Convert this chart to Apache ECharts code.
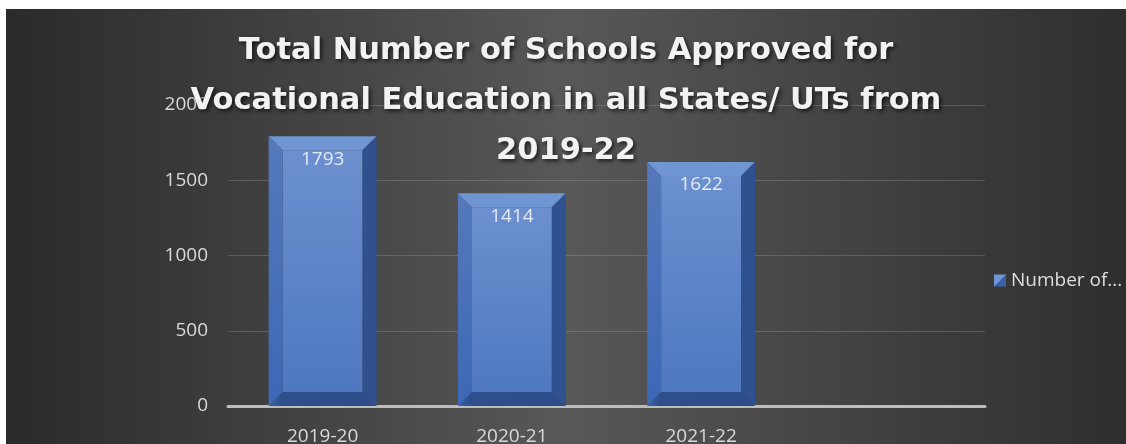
<!DOCTYPE html>
<html>
<head>
<meta charset="utf-8">
<script src="https://cdn.jsdelivr.net/npm/echarts@6/dist/echarts.min.js"></script>
<style>
html,body{margin:0;padding:0;background:#fff;width:1126px;height:444px;overflow:hidden;}
#chart{position:absolute;left:6px;top:9px;width:1120px;height:435px;}
</style>
</head>
<body>
<div id="chart"></div>
<script>
const titleLines = ['Total Number of Schools Approved for', 'Vocational Education in all States/ UTs from', '2019-22'];
const categories = ['2019-20', '2020-21', '2021-22'];
const seriesName = 'Number of Schools';
const values = [1793, 1414, 1622];
const yTicks = { min: 0, max: 2000, interval: 500 };

const axisData = categories.concat(['']);
const chart = echarts.init(document.getElementById('chart'), null, { renderer: 'canvas' });

function renderBevelBar(params, api) {
  const idx = api.value(0);
  const v = api.value(1);
  const top = api.coord([idx, v]);
  const base = api.coord([idx, 0]);
  const band = api.size([1, 0])[0];
  const w = band * 0.57;
  const x0 = top[0] - w / 2, x1 = x0 + w;
  const yt = top[1], yb = base[1];
  const d = 14;
  return {
    type: 'group',
    children: [
      { type: 'rect', shape: { x: x0 + d, y: yt + d, width: w - 2 * d, height: yb - yt - 2 * d },
        style: { fill: new echarts.graphic.LinearGradient(0, 0, 0, 1, [
          { offset: 0, color: '#6c90cf' }, { offset: 1, color: '#4f78c0' }]) } },
      { type: 'polygon', shape: { points: [[x0, yt], [x1, yt], [x1 - d, yt + d], [x0 + d, yt + d]] },
        style: { fill: '#7095d3' } },
      { type: 'polygon', shape: { points: [[x0, yt], [x0 + d, yt + d], [x0 + d, yb - d], [x0, yb]] },
        style: { fill: new echarts.graphic.LinearGradient(0, 0, 0, 1, [
          { offset: 0, color: '#5579bb' }, { offset: 1, color: '#3d68b6' }]) } },
      { type: 'polygon', shape: { points: [[x1, yt], [x1, yb], [x1 - d, yb - d], [x1 - d, yt + d]] },
        style: { fill: '#2f5190' } },
      { type: 'polygon', shape: { points: [[x0, yb], [x0 + d, yb - d], [x1 - d, yb - d], [x1, yb]] },
        style: { fill: new echarts.graphic.LinearGradient(0, 0, 1, 0, [
          { offset: 0, color: '#3563b3' }, { offset: 0.12, color: '#2e4f8c' }, { offset: 1, color: '#2c4d8a' }]) } },
      { type: 'text', style: { text: String(v), x: top[0], y: yt + 23, align: 'center', verticalAlign: 'middle',
          fill: '#e3eaf6', font: '19px "Open Sans"' } }
    ]
  };
}

const option = {
  backgroundColor: new echarts.graphic.LinearGradient(0, 0, 1, 0, [
    { offset: 0, color: '#2a2a2a' },
    { offset: 0.5, color: '#585858' },
    { offset: 1, color: '#2e2e2e' }
  ]),
  title: {
    text: titleLines.join('\n'),
    left: 'center',
    top: 12,
    textStyle: {
      color: '#f2f2f2',
      fontFamily: 'DejaVu Sans',
      fontWeight: 'bold',
      fontSize: 30.5,
      lineHeight: 50,
      textShadowColor: 'rgba(0,0,0,0.7)',
      textShadowBlur: 4,
      textShadowOffsetX: 2,
      textShadowOffsetY: 2
    }
  },
  legend: {
    data: [seriesName],
    left: 983,
    top: 257,
    icon: 'rect',
    itemWidth: 12,
    itemHeight: 12,
    formatter: name => name.split(' ').slice(0, 2).join(' ') + '...',
    textStyle: { color: '#dedede', fontFamily: 'Open Sans', fontSize: 19 }
  },
  grid: { left: 222, right: 141, top: 96, bottom: 38, containLabel: false, outerBoundsMode: 'none' },
  xAxis: {
    type: 'category',
    data: axisData,
    axisTick: { show: false },
    axisLine: { lineStyle: { color: '#bdbdbd', width: 3 } },
    axisLabel: { color: '#d9d9d9', fontFamily: 'Open Sans', fontSize: 19, margin: 21 },
    splitLine: { show: false }
  },
  yAxis: {
    type: 'value',
    min: yTicks.min, max: yTicks.max, interval: yTicks.interval,
    axisLine: { show: false },
    axisTick: { show: false },
    axisLabel: { color: '#d9d9d9', fontFamily: 'Open Sans', fontSize: 19, margin: 20, formatter: v => String(v) },
    splitLine: { lineStyle: { color: 'rgba(255,255,255,0.16)', width: 1 } }
  },
  series: [{
    name: seriesName,
    type: 'custom',
    renderItem: renderBevelBar,
    clip: false,
    itemStyle: {
      color: new echarts.graphic.LinearGradient(0, 0, 1, 1, [
        { offset: 0, color: '#7095d3' }, { offset: 0.5, color: '#7095d3' },
        { offset: 0.5, color: '#3a62a8' }, { offset: 1, color: '#3a62a8' }])
    },
    encode: { x: 0, y: 1 },
    data: values.map((v, i) => [i, v])
  }]
};
chart.setOption(option);
</script>
</body>
</html>
